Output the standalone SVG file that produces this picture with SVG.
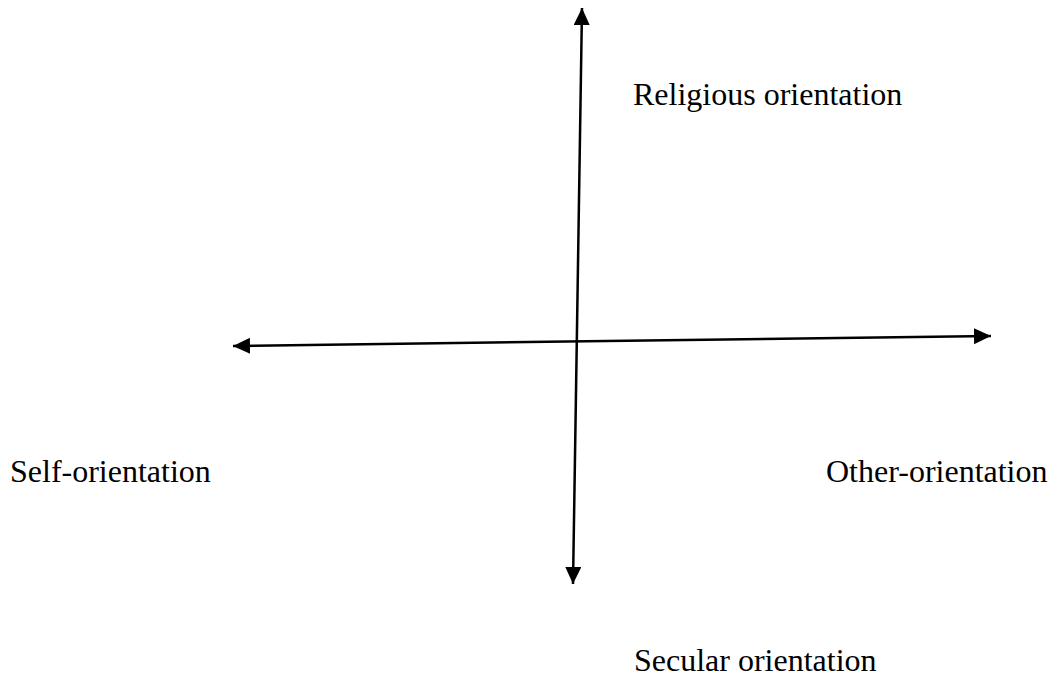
<svg xmlns="http://www.w3.org/2000/svg" width="1052" height="677" viewBox="0 0 1052 677">
  <style>
    .axis { stroke: #000; stroke-width: 2.5; fill: none; }
    .label { font-family: "Liberation Serif", "Times New Roman", serif; font-size: 32px; fill: #000; }
  </style>
  <defs>
    <marker id="head" markerUnits="userSpaceOnUse" markerWidth="17" markerHeight="16" refX="17" refY="8" orient="auto-start-reverse" viewBox="0 0 17 16">
      <path d="M0,0 L17,8 L0,16 Z" fill="#000"/>
    </marker>
  </defs>
  <rect width="1052" height="677" fill="#fff"/>
  <g id="connectors">
    <line class="axis" x1="582" y1="8" x2="573" y2="584" marker-start="url(#head)" marker-end="url(#head)"/>
    <line class="axis" x1="233" y1="346" x2="991" y2="336" marker-start="url(#head)" marker-end="url(#head)"/>
  </g>
  <g id="religious"><text class="label" x="633" y="105">Religious orientation</text></g>
  <g id="secular"><text class="label" x="634" y="671">Secular orientation</text></g>
  <g id="self"><text class="label" x="10" y="482">Self-orientation</text></g>
  <g id="other"><text class="label" x="826" y="482">Other-orientation</text></g>
</svg>
